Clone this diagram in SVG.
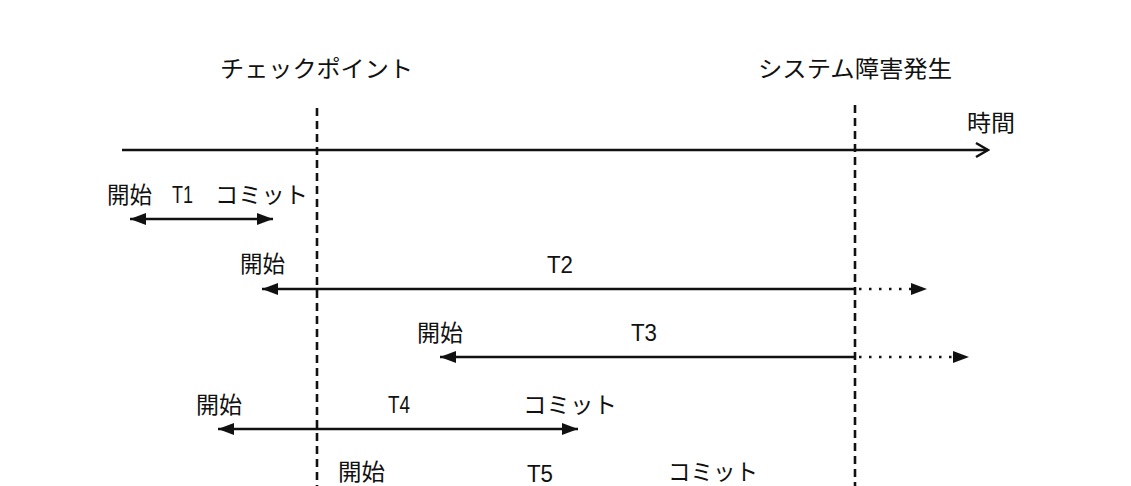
<svg xmlns="http://www.w3.org/2000/svg" width="1131" height="486" viewBox="0 0 1131 486">
  <style>
    .jp { font-family: "Noto Sans CJK JP", "Noto Sans", sans-serif; font-size: 23px; fill: #111; }
    .lat { font-family: "Liberation Sans", Arial, sans-serif; font-size: 23px; fill: #111; }
    .line { stroke: #111; stroke-width: 2.5; fill: none; }
    .dash { stroke: #111; stroke-width: 2.6; stroke-dasharray: 8 5; fill: none; }
    .dot { stroke: #111; stroke-width: 2.6; stroke-dasharray: 2.5 7.5; fill: none; }
  </style>
  <defs>
    <marker id="head" markerUnits="userSpaceOnUse" markerWidth="17" markerHeight="14" refX="16" refY="7" orient="auto-start-reverse">
      <path d="M0,1 L16,7 L0,13 Z" fill="#111"/>
    </marker>
    <marker id="open" markerUnits="userSpaceOnUse" markerWidth="16" markerHeight="18" refX="14" refY="9" orient="auto">
      <path d="M2,2 L14,9 L2,16" fill="none" stroke="#111" stroke-width="2.6"/>
    </marker>
  </defs>
  <rect width="1131" height="486" fill="#fff"/>

  <g id="checkpoint">
    <text class="jp" x="220" y="77" textLength="193" lengthAdjust="spacingAndGlyphs">チェックポイント</text>
  </g>
  <g id="failure">
    <text class="jp" x="758" y="77" textLength="194" lengthAdjust="spacingAndGlyphs">システム障害発生</text>
  </g>
  <g id="time-axis">
    <text class="jp" x="967" y="131" textLength="48" lengthAdjust="spacingAndGlyphs">時間</text>
  </g>
  <g id="T1">
    <text class="jp" x="107" y="203" textLength="45" lengthAdjust="spacingAndGlyphs">開始</text>
    <text class="lat" x="172" y="203" textLength="21" lengthAdjust="spacingAndGlyphs">T1</text>
    <text class="jp" x="215" y="203" textLength="93" lengthAdjust="spacingAndGlyphs">コミット</text>
  </g>
  <g id="T2">
    <text class="jp" x="240" y="272" textLength="45" lengthAdjust="spacingAndGlyphs">開始</text>
    <text class="lat" x="547" y="273" textLength="26" lengthAdjust="spacingAndGlyphs">T2</text>
  </g>
  <g id="T3">
    <text class="jp" x="417" y="341" textLength="46" lengthAdjust="spacingAndGlyphs">開始</text>
    <text class="lat" x="631" y="341" textLength="26" lengthAdjust="spacingAndGlyphs">T3</text>
  </g>
  <g id="T4">
    <text class="jp" x="196" y="413" textLength="46" lengthAdjust="spacingAndGlyphs">開始</text>
    <text class="lat" x="388" y="413" textLength="22" lengthAdjust="spacingAndGlyphs">T4</text>
    <text class="jp" x="523" y="413" textLength="94" lengthAdjust="spacingAndGlyphs">コミット</text>
  </g>
  <g id="T5">
    <text class="jp" x="338" y="480" textLength="47" lengthAdjust="spacingAndGlyphs">開始</text>
    <text class="lat" x="527" y="482" textLength="26" lengthAdjust="spacingAndGlyphs">T5</text>
    <text class="jp" x="668" y="480" textLength="90" lengthAdjust="spacingAndGlyphs">コミット</text>
  </g>

  <g id="connectors">
    <line class="line" x1="122" y1="150" x2="988" y2="150" marker-end="url(#open)"/>
    <line class="dash" x1="317" y1="108" x2="317" y2="486"/>
    <line class="dash" x1="855" y1="105" x2="855" y2="486"/>
    <line class="line" x1="130" y1="219" x2="273" y2="219" marker-start="url(#head)" marker-end="url(#head)"/>
    <line class="line" x1="855" y1="289" x2="262" y2="289" marker-end="url(#head)"/>
    <line class="dot" x1="859" y1="289" x2="927" y2="289" marker-end="url(#head)"/>
    <line class="line" x1="855" y1="357" x2="440" y2="357" marker-end="url(#head)"/>
    <line class="dot" x1="859" y1="357" x2="969" y2="357" marker-end="url(#head)"/>
    <line class="line" x1="218" y1="429" x2="578" y2="429" marker-start="url(#head)" marker-end="url(#head)"/>
  </g>
</svg>
